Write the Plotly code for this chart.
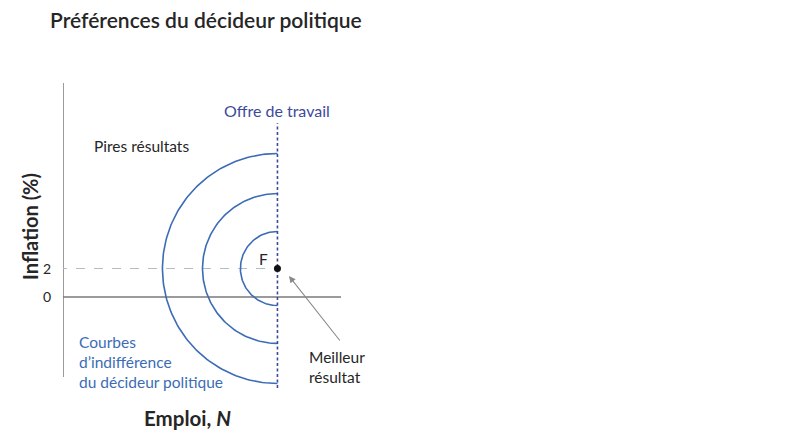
import numpy as np
import plotly.graph_objects as go

# data
center_n = 15.05           # labour supply, N*
center_pi = 2.0            # inflation target
radii = [2.6, 5.26, 8.07]  # indifference curves
y_ticks = [0, 2]
y_tick_labels = ["0", "2"]

x_max = 19.51
y_min, y_max = -6.39, 15.02
axis_top = 15.02
axis_bottom = -5.61
supply_top = 12.2
tick_start = -0.35         # 5px tick left of the y axis

FONT = "Lato"
BLUE = "#3b6cb5"
DARK_BLUE = "#3d4a9c"
GREY = "#7a7a7a"
TEXT = "#262626"

# the page body adds an 8px offset, so margins are shifted by that
PLOT_L, PLOT_T, PLOT_W, PLOT_H = 55, 75, 278, 305

fig = go.Figure()

# y axis line
fig.add_trace(go.Scatter(x=[0, 0], y=[axis_bottom, axis_top], mode="lines",
                         line=dict(color=GREY, width=1.5), cliponaxis=False, hoverinfo="skip"))
# x axis (inflation = 0)
fig.add_trace(go.Scatter(x=[tick_start, x_max], y=[0, 0], mode="lines",
                         line=dict(color=GREY, width=1.5), cliponaxis=False, hoverinfo="skip"))
# target inflation dashed line
fig.add_trace(go.Scatter(x=[tick_start, center_n], y=[center_pi, center_pi], mode="lines",
                         line=dict(color="#b4bcc6", width=1.2, dash="dash"), cliponaxis=False,
                         hoverinfo="skip"))

# indifference curves: semicircles left of labour supply
theta = np.linspace(np.pi / 2, 3 * np.pi / 2, 120)
for r in radii:
    fig.add_trace(go.Scatter(x=center_n + r * np.cos(theta), y=center_pi + r * np.sin(theta),
                             mode="lines", line=dict(color=BLUE, width=1.6), hoverinfo="skip"))

# labour supply
fig.add_trace(go.Scatter(x=[center_n, center_n], y=[y_min, supply_top], mode="lines",
                         line=dict(color=DARK_BLUE, width=1.6, dash="3px,2.5px"), cliponaxis=False,
                         hoverinfo="skip"))
# point F
fig.add_trace(go.Scatter(x=[center_n], y=[center_pi], mode="markers",
                         marker=dict(color="#111", size=7), cliponaxis=False, hoverinfo="skip"))

ann = [
    dict(x=center_n, y=13.12, text="Offre de travail", font=dict(color=DARK_BLUE, size=16),
         xanchor="center"),
    dict(x=2.0, y=10.6, text="Pires résultats", font=dict(color=TEXT, size=15.5), xanchor="left"),
    dict(x=14.1, y=2.67, text="F", font=dict(color=TEXT, size=15.5), xanchor="center"),
    dict(x=17.12, y=-4.91, text="Meilleur<br>résultat", font=dict(color=TEXT, size=15.5),
         xanchor="left", align="left"),
    dict(x=1.0, y=-4.56, text="Courbes<br>d’indifférence<br>du décideur politique",
         font=dict(color=BLUE, size=15.5), xanchor="left", align="left"),
]
for a in ann:
    fig.add_annotation(xref="x", yref="y", showarrow=False, yanchor="middle", **a)

# y tick labels
for v, lab in zip(y_ticks, y_tick_labels):
    fig.add_annotation(xref="paper", yref="y", x=(47 - 63) / PLOT_W, y=v, text=lab,
                       font=dict(color=TEXT, size=14), showarrow=False,
                       xanchor="center", yanchor="middle")

# axis titles (outside the plot area, so in paper units)
fig.add_annotation(xref="paper", yref="paper", x=(187 - 63) / PLOT_W, y=(388 - 418) / PLOT_H,
                   text="<b>Emploi, <i>N</i></b>", font=dict(color=TEXT, size=20.5),
                   showarrow=False, xanchor="center", yanchor="middle")
fig.add_annotation(xref="paper", yref="paper", x=(30 - 63) / PLOT_W, y=(388 - 227) / PLOT_H,
                   text="<b>Inflation (%)</b>", font=dict(color=TEXT, size=20),
                   showarrow=False, xanchor="center", yanchor="middle", textangle=-90)

# arrow to best outcome
fig.add_annotation(xref="x", yref="y", axref="x", ayref="y", x=15.86, y=1.47, ax=19.51, ay=-3.16,
                   text="", showarrow=True, arrowhead=2, arrowsize=1.2, arrowwidth=1.1,
                   arrowcolor="#8a8a8a")

fig.update_layout(
    width=810, height=445,
    margin=dict(l=PLOT_L, r=810 - PLOT_L - PLOT_W, t=PLOT_T, b=445 - PLOT_T - PLOT_H),
    plot_bgcolor="white", paper_bgcolor="white",
    showlegend=False,
    font=dict(family=FONT, color=TEXT),
    title=dict(text="Préférences du décideur politique", xref="container", yref="container",
               x=42 / 810, y=1 - 13 / 445, xanchor="left", yanchor="middle",
               font=dict(size=21, color=TEXT, weight=600)),
    xaxis=dict(visible=False, range=[0, x_max]),
    yaxis=dict(visible=False, range=[y_min, y_max]),
)

fig.write_html("out.html")
